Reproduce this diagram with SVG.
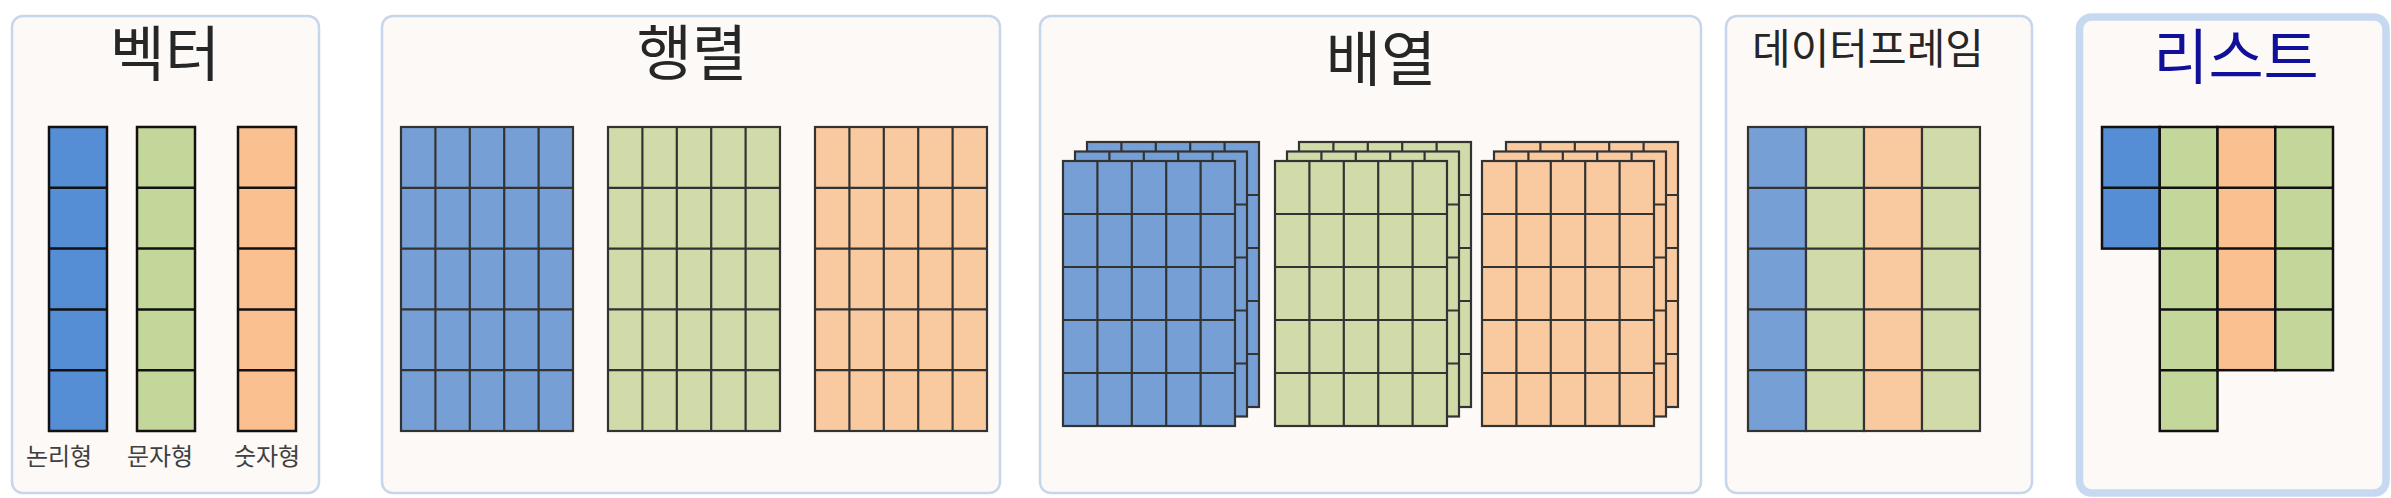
<svg xmlns="http://www.w3.org/2000/svg" xmlns:xlink="http://www.w3.org/1999/xlink" width="2391" height="498" viewBox="0 0 2391 498">
<style>
.panel{fill:#fdf9f6;stroke:#c6d6ec;stroke-width:2.5}
.panel-thick{fill:#fdf9f6;stroke:#c6d9f0;stroke-width:7.5}
.title{font-family:"Noto Sans CJK KR","Noto Sans",sans-serif;font-size:60px;fill:#262626;text-anchor:middle}
.title-sm{font-family:"Noto Sans CJK KR","Noto Sans",sans-serif;font-size:42px;fill:#262626;text-anchor:middle}
.title-list{font-family:"Noto Sans CJK KR","Noto Sans",sans-serif;font-size:60px;fill:#10109a;text-anchor:middle}
.label{font-family:"Noto Sans CJK KR","Noto Sans",sans-serif;font-size:24px;fill:#404040;text-anchor:middle}
.vb{fill:#558ed5}.vg{fill:#c4d79b}.vo{fill:#fac090}
.mb{fill:#769fd6}.mg{fill:#d1dbaa}.mo{fill:#f9c9a0}
.bold{stroke:#111;stroke-width:2.5}
.soft{stroke:#333;stroke-width:2.2}
.lines{fill:none}
</style>
<defs>
<g id="vcol"><rect width="58" height="304"/><path class="lines" d="M0 60.8H58M0 121.6H58M0 182.4H58M0 243.2H58"/></g>
<g id="mat"><rect width="172" height="304"/><path class="lines" d="M34.4 0V304M68.8 0V304M103.2 0V304M137.6 0V304M0 60.8H172M0 121.6H172M0 182.4H172M0 243.2H172"/></g>
<g id="arr"><rect width="172" height="265"/><path class="lines" d="M34.4 0V265M68.8 0V265M103.2 0V265M137.6 0V265M0 53H172M0 106H172M0 159H172M0 212H172"/></g>
<g id="cube"><use xlink:href="#arr" x="24" y="-19"/><use xlink:href="#arr" x="12" y="-9.5"/><use xlink:href="#arr" x="0" y="0"/></g>
</defs>

<g id="vector">
<rect class="panel" x="12" y="16" width="307" height="477" rx="11"/>
<text class="title" x="165" y="76">벡터</text>
<use xlink:href="#vcol" x="49" y="127" class="vb bold"/>
<use xlink:href="#vcol" x="137" y="127" class="vg bold"/>
<use xlink:href="#vcol" x="238" y="127" class="vo bold"/>
<text class="label" x="59" y="465">논리형</text>
<text class="label" x="160" y="465">문자형</text>
<text class="label" x="267" y="465">숫자형</text>
</g>

<g id="matrix">
<rect class="panel" x="382" y="16" width="618" height="477" rx="11"/>
<text class="title" x="692" y="75">행렬</text>
<use xlink:href="#mat" x="401" y="127" class="mb soft"/>
<use xlink:href="#mat" x="608" y="127" class="mg soft"/>
<use xlink:href="#mat" x="815" y="127" class="mo soft"/>
</g>

<g id="array">
<rect class="panel" x="1040" y="16" width="661" height="477" rx="11"/>
<text class="title" x="1381" y="81">배열</text>
<use xlink:href="#cube" x="1063" y="161" class="mb soft"/>
<use xlink:href="#cube" x="1275" y="161" class="mg soft"/>
<use xlink:href="#cube" x="1482" y="161" class="mo soft"/>
</g>

<g id="dataframe">
<rect class="panel" x="1726" y="16" width="306" height="477" rx="11"/>
<text class="title-sm" x="1868" y="64">데이터프레임</text>
<use xlink:href="#vcol" x="1748" y="127" class="mb soft"/>
<use xlink:href="#vcol" x="1806" y="127" class="mg soft"/>
<use xlink:href="#vcol" x="1864" y="127" class="mo soft"/>
<use xlink:href="#vcol" x="1922" y="127" class="mg soft"/>
</g>

<g id="list">
<rect class="panel-thick" x="2079.5" y="17" width="306.5" height="476" rx="12"/>
<text class="title-list" x="2236" y="79">리스트</text>
<g class="bold">
<rect class="vb" x="2102" y="127" width="57.75" height="121.6"/>
<path class="lines" d="M2102 187.8H2159.75"/>
<rect class="vg" x="2159.75" y="127" width="57.75" height="304"/>
<path class="lines" d="M2159.75 187.8H2217.5M2159.75 248.6H2217.5M2159.75 309.4H2217.5M2159.75 370.2H2217.5"/>
<rect class="vo" x="2217.5" y="127" width="57.75" height="243.2"/>
<path class="lines" d="M2217.5 187.8H2275.25M2217.5 248.6H2275.25M2217.5 309.4H2275.25"/>
<rect class="vg" x="2275.25" y="127" width="57.75" height="243.2"/>
<path class="lines" d="M2275.25 187.8H2333M2275.25 248.6H2333M2275.25 309.4H2333"/>
</g>
</g>

<g id="connectors"></g>
</svg>
